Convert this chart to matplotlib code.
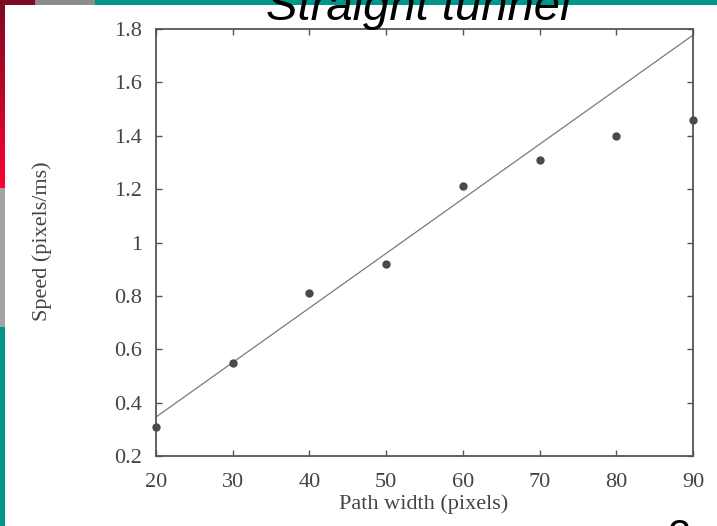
import numpy as np
import matplotlib
matplotlib.use('Agg')
from matplotlib import pyplot as plt
from matplotlib.patches import Rectangle
from matplotlib.colors import LinearSegmentedColormap

# measured speed per path width
widths = [20, 30, 40, 50, 60, 70, 80, 90]
speeds = [0.31, 0.55, 0.81, 0.92, 1.21, 1.31, 1.40, 1.46]

# model line endpoints
fit_width = [20, 90]
fit_speed = [0.346, 1.777]

x_ticks = [20, 30, 40, 50, 60, 70, 80, 90]
y_ticks = [0.2, 0.4, 0.6, 0.8, 1.0, 1.2, 1.4, 1.6, 1.8]
y_tick_labels = ['0.2', '0.4', '0.6', '0.8', '1', '1.2', '1.4', '1.6', '1.8']

title_text = 'Straight tunnel'
page_number = '2'

W, H = 717, 526
fig = plt.figure(figsize=(W / 100, H / 100), dpi=100)
fig.patch.set_facecolor('white')

# slide frame: top strip and left strip
def px_rect(x, y, w, h, color):
    fig.add_artist(Rectangle((x / W, 1 - (y + h) / H), w / W, h / H,
                             transform=fig.transFigure, color=color,
                             lw=0, zorder=1))

px_rect(0, 0, 35, 5, '#7c0a22')
px_rect(35, 0, 60, 5, '#8c8c8c')
px_rect(95, 0, W - 95, 5, '#00968a')
px_rect(0, 188, 5, 139, '#a3a3a3')
px_rect(0, 327, 5, H - 327, '#00968a')

grad_ax = fig.add_axes([0, 1 - 188 / H, 5 / W, 188 / H])
red_map = LinearSegmentedColormap.from_list('reds', ['#7a0a22', '#ff0033'])
grad_ax.imshow(np.linspace(0, 1, 100).reshape(-1, 1), aspect='auto', cmap=red_map)
grad_ax.axis('off')

fig.text(418 / W, 1 - 20 / H, title_text, ha='center', va='baseline',
         fontsize=34, style='italic', family='Liberation Sans', color='black',
         zorder=5)
fig.text(679 / W, 1 - 549 / H, page_number, ha='center', va='baseline',
         fontsize=30, family='Liberation Sans', color='black')

ax = fig.add_axes([156 / W, 1 - 456 / H, (693 - 156) / W, (456 - 29) / H])
serif = 'Liberation Serif'
grey = '#555555'

ax.plot(fit_width, fit_speed, color='#7a7a7a', lw=0.9, zorder=2)
ax.plot(widths, speeds, 'o', color='#4a4a4a', ms=5, clip_on=False, zorder=3)

ax.set_xlim(20, 90)
ax.set_ylim(0.2, 1.8)
ax.set_xticks(x_ticks)
ax.set_yticks(y_ticks)
ax.set_yticklabels(y_tick_labels)
ax.tick_params(direction='in', top=True, right=True, length=4, width=1,
               color=grey, labelcolor='#444444', labelsize=16)
ax.tick_params(axis='x', pad=12)
ax.tick_params(axis='y', pad=10)
for lab in ax.get_xticklabels() + ax.get_yticklabels():
    lab.set_family(serif)
for s in ax.spines.values():
    s.set_color(grey)
    s.set_linewidth(1.3)

fig.text(424 / W, 1 - 504 / H, 'Path width (pixels)', ha='center', va='center',
         fontsize=16, family=serif, color='#444444')
fig.text(42 / W, 1 - 241 / H, 'Speed (pixels/ms)', ha='center', va='center',
         rotation=90, fontsize=16, family=serif, color='#444444')

fig.savefig('out.png', dpi=100)
